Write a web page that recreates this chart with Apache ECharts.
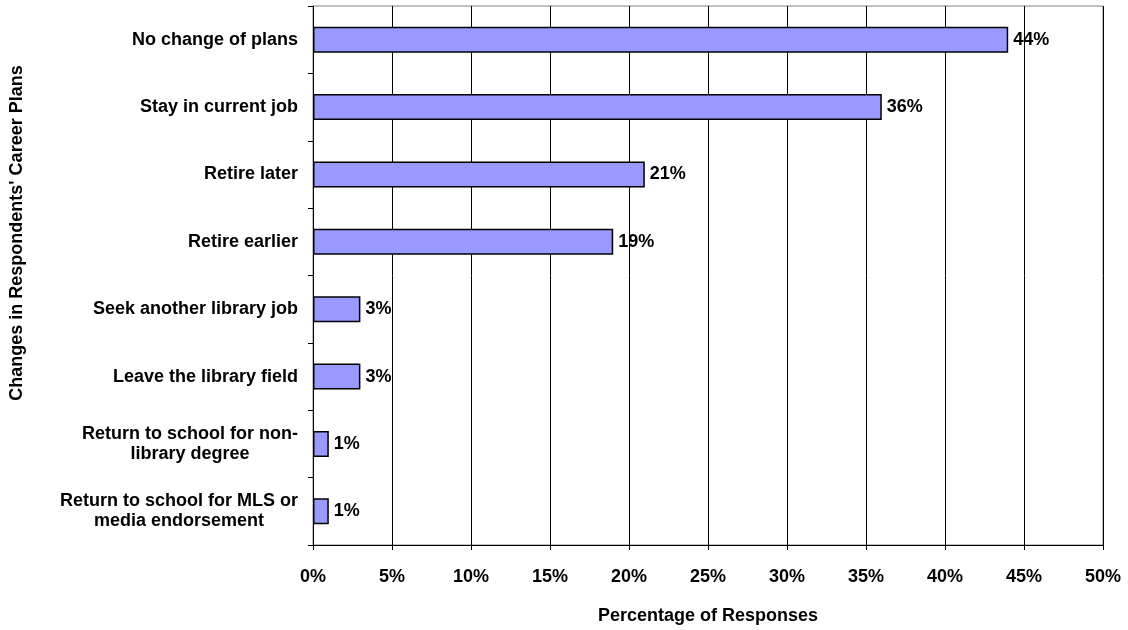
<!DOCTYPE html>
<html>
<head>
<meta charset="utf-8">
<script src="https://cdn.jsdelivr.net/npm/echarts@6/dist/echarts.min.js"></script>
<style>
  html, body { margin: 0; padding: 0; background: #fff; }
  #chart { width: 1128px; height: 630px; }
</style>
</head>
<body>
<div id="chart"></div>
<script>
var categories = [
    "No change of plans",
    "Stay in current job",
    "Retire later",
    "Retire earlier",
    "Seek another library job",
    "Leave the library field",
    "Return to school for non-\nlibrary degree",
    "Return to school for MLS or\nmedia endorsement"
];
var values = [44, 36, 21, 19, 3, 3, 1, 1];
var xTicks = [0, 5, 10, 15, 20, 25, 30, 35, 40, 45, 50];

var font = "Liberation Sans, Arial, sans-serif";
var chart = echarts.init(document.getElementById("chart"));

// two-line labels: lines centred on each other, block right aligned
var ctx = document.createElement("canvas").getContext("2d");
ctx.font = "bold 18px " + font;
var rich = {};
categories.forEach(function (c, i) {
    var lines = c.split("\n");
    if (lines.length < 2) return;
    var w = Math.max.apply(null, lines.map(function (l) { return ctx.measureText(l).width; }));
    rich["m" + i] = {width: Math.ceil(w), align: "center", lineHeight: 20,
        fontWeight: "bold", fontSize: 18, color: "#000"};
});

var option = {
    animation: false,
    textStyle: {fontFamily: font},
    grid: {
        left: 313, top: 6, right: 25, bottom: 85,
        show: true, borderColor: "#808080", borderWidth: 1,
        containLabel: false,
        outerBoundsMode: "none"
    },
    // y axis title sits above the plot centre in the original
    graphic: [{
        type: "text",
        x: 17, y: 233,
        rotation: Math.PI / 2,
        style: {
            text: "Changes in Respondents' Career Plans",
            fontFamily: font, fontWeight: "bold", fontSize: 18, fill: "#000",
            align: "center", verticalAlign: "middle"
        }
    }],
    xAxis: {
        type: "value",
        min: xTicks[0],
        max: xTicks[xTicks.length - 1],
        interval: 5,
        name: "Percentage of Responses",
        nameLocation: "middle",
        nameGap: 62,
        nameTextStyle: {fontWeight: "bold", fontSize: 18, color: "#000"},
        axisLine: {show: true, lineStyle: {color: "#000", width: 1}},
        axisTick: {show: true, length: 5, lineStyle: {color: "#000"}},
        axisLabel: {
            formatter: "{value}%",
            fontWeight: "bold", fontSize: 18, color: "#000", margin: 23
        },
        splitLine: {show: true, lineStyle: {color: "#000", width: 1}}
    },
    yAxis: {
        type: "category",
        inverse: true,
        data: categories,
        axisLine: {show: true, lineStyle: {color: "#000", width: 1}},
        axisTick: {show: true, length: 5, lineStyle: {color: "#000"}},
        axisLabel: {
            fontWeight: "bold", fontSize: 18, color: "#000", margin: 15,
            lineHeight: 20, align: "right",
            formatter: function (v, i) {
                if (!rich["m" + i]) return v;
                return v.split("\n").map(function (l) {
                    return "{m" + i + "|" + l + "}";
                }).join("\n");
            },
            rich: rich
        }
    },
    series: [{
        type: "bar",
        data: values,
        barWidth: 26,
        itemStyle: {color: "#9999FF", borderColor: "#000", borderWidth: 1.5},
        label: {
            show: true,
            position: "right",
            distance: 5,
            formatter: "{c}%",
            fontWeight: "bold", fontSize: 18, color: "#000"
        }
    }]
};
chart.setOption(option);
</script>
</body>
</html>
